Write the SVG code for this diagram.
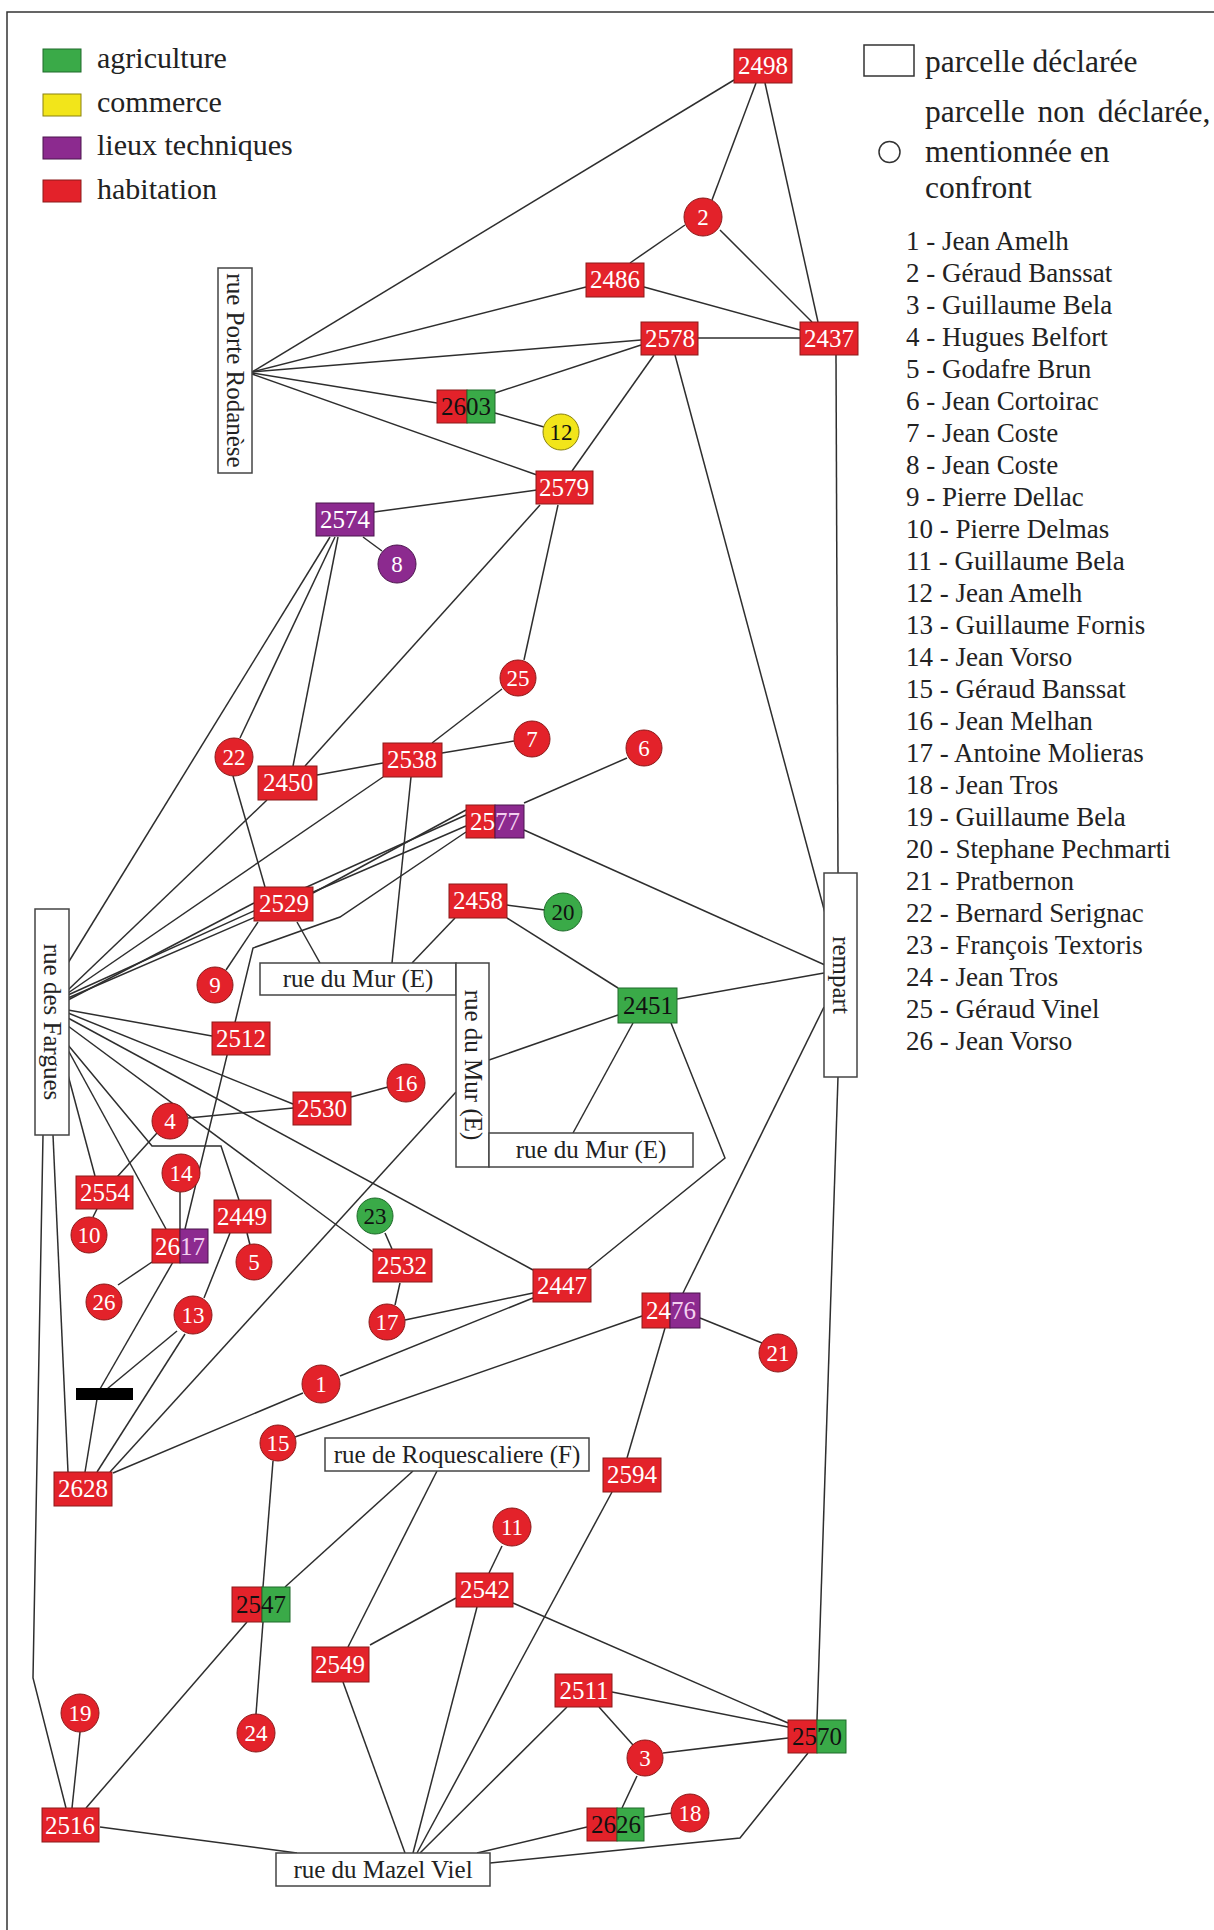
<svg xmlns="http://www.w3.org/2000/svg" width="1214" height="1930" viewBox="0 0 1214 1930">
<defs>
<style>
.ln{stroke:#2e2e2e;stroke-width:1.5;fill:none}
.r{fill:#e3222a;stroke:#8b1a1a;stroke-width:1}
.g{fill:#3aaa48;stroke:#1e6b2a;stroke-width:1}
.p{fill:#8c2a8f;stroke:#4b154d;stroke-width:1}
.y{fill:#f2e51a;stroke:#8a8210;stroke-width:1}
.st{fill:#fff;stroke:#444;stroke-width:1.5}
.t{font-family:"Liberation Serif",serif;font-size:25px;text-anchor:middle;fill:#fff}
.c{font-family:"Liberation Serif",serif;font-size:23px;text-anchor:middle;fill:#fff}
.k{fill:#111}
.s{font-family:"Liberation Serif",serif;font-size:25px;fill:#222;text-anchor:middle}
.lg{font-family:"Liberation Serif",serif;font-size:30px;fill:#222}
.lr{font-family:"Liberation Serif",serif;font-size:31.5px;fill:#222}
.li{font-family:"Liberation Serif",serif;font-size:27px;fill:#222}
</style>
</defs>
<rect width="1214" height="1930" fill="#fff"/>
<path d="M7,1930 V12 H1214" fill="none" stroke="#333" stroke-width="1.5"/>

<g id="legend">
<rect x="43" y="49" width="38" height="23" class="g"/>
<rect x="43" y="94" width="38" height="22" class="y"/>
<rect x="43" y="137" width="38" height="22" class="p"/>
<rect x="43" y="180" width="38" height="22" class="r"/>
<text class="lg" x="97" y="68">agriculture</text>
<text class="lg" x="97" y="112">commerce</text>
<text class="lg" x="97" y="155">lieux techniques</text>
<text class="lg" x="97" y="199">habitation</text>
<rect x="864" y="45" width="50" height="31" fill="#fff" stroke="#333" stroke-width="1.5"/>
<text class="lr" x="925" y="72">parcelle déclarée</text>
<circle cx="889.5" cy="152" r="10.5" fill="#fff" stroke="#333" stroke-width="1.5"/>
<text class="lr" x="925" y="122" word-spacing="5">parcelle non déclarée,</text>
<text class="lr" x="925" y="162">mentionnée en</text>
<text class="lr" x="925" y="198">confront</text>
<text class="li" x="906" y="250">1 - Jean Amelh</text>
<text class="li" x="906" y="282">2 - Géraud Banssat</text>
<text class="li" x="906" y="314">3 - Guillaume Bela</text>
<text class="li" x="906" y="346">4 - Hugues Belfort</text>
<text class="li" x="906" y="378">5 - Godafre Brun</text>
<text class="li" x="906" y="410">6 - Jean Cortoirac</text>
<text class="li" x="906" y="442">7 - Jean Coste</text>
<text class="li" x="906" y="474">8 - Jean Coste</text>
<text class="li" x="906" y="506">9 - Pierre Dellac</text>
<text class="li" x="906" y="538">10 - Pierre Delmas</text>
<text class="li" x="906" y="570">11 - Guillaume Bela</text>
<text class="li" x="906" y="602">12 - Jean Amelh</text>
<text class="li" x="906" y="634">13 - Guillaume Fornis</text>
<text class="li" x="906" y="666">14 - Jean Vorso</text>
<text class="li" x="906" y="698">15 - Géraud Banssat</text>
<text class="li" x="906" y="730">16 - Jean Melhan</text>
<text class="li" x="906" y="762">17 - Antoine Molieras</text>
<text class="li" x="906" y="794">18 - Jean Tros</text>
<text class="li" x="906" y="826">19 - Guillaume Bela</text>
<text class="li" x="906" y="858">20 - Stephane Pechmarti</text>
<text class="li" x="906" y="890">21 - Pratbernon</text>
<text class="li" x="906" y="922">22 - Bernard Serignac</text>
<text class="li" x="906" y="954">23 - François Textoris</text>
<text class="li" x="906" y="986">24 - Jean Tros</text>
<text class="li" x="906" y="1018">25 - Géraud Vinel</text>
<text class="li" x="906" y="1050">26 - Jean Vorso</text>
</g>

<g id="connectors">
<line class="ln" x1="734" y1="80" x2="252" y2="372"/>
<line class="ln" x1="756" y1="83" x2="712" y2="200"/>
<line class="ln" x1="765" y1="83" x2="818" y2="322"/>
<line class="ln" x1="685" y1="225" x2="630" y2="263"/>
<line class="ln" x1="720" y1="230" x2="812" y2="322"/>
<line class="ln" x1="644" y1="287" x2="800" y2="330"/>
<line class="ln" x1="586" y1="287" x2="252" y2="372"/>
<line class="ln" x1="698" y1="338" x2="800" y2="338"/>
<line class="ln" x1="641" y1="340" x2="252" y2="372"/>
<line class="ln" x1="641" y1="345" x2="495" y2="393"/>
<line class="ln" x1="654" y1="355" x2="572" y2="471"/>
<line class="ln" x1="675" y1="355" x2="825" y2="913"/>
<line class="ln" x1="437" y1="403" x2="252" y2="373"/>
<line class="ln" x1="495" y1="413" x2="544" y2="427"/>
<line class="ln" x1="537" y1="475" x2="252" y2="374"/>
<line class="ln" x1="537" y1="490" x2="374" y2="512"/>
<line class="ln" x1="558" y1="505" x2="524" y2="660"/>
<line class="ln" x1="540" y1="505" x2="305" y2="766"/>
<line class="ln" x1="363" y1="537" x2="382" y2="551"/>
<line class="ln" x1="330" y1="537" x2="68" y2="963"/>
<line class="ln" x1="335" y1="537" x2="240" y2="738"/>
<line class="ln" x1="338" y1="537" x2="293" y2="766"/>
<line class="ln" x1="233" y1="776" x2="265" y2="887"/>
<line class="ln" x1="317" y1="775" x2="383" y2="763"/>
<line class="ln" x1="267" y1="800" x2="68" y2="990"/>
<line class="ln" x1="383" y1="777" x2="68" y2="993"/>
<line class="ln" x1="502" y1="689" x2="432" y2="743"/>
<line class="ln" x1="442" y1="753" x2="514" y2="741"/>
<line class="ln" x1="411" y1="777" x2="392" y2="963"/>
<line class="ln" x1="524" y1="803" x2="627" y2="758"/>
<line class="ln" x1="524" y1="830" x2="825" y2="965"/>
<line class="ln" x1="466" y1="815" x2="68" y2="995"/>
<line class="ln" x1="466" y1="826" x2="68" y2="998"/>
<line class="ln" x1="313" y1="893" x2="466" y2="810"/>
<polyline class="ln" points="466,832 340,917 253,948 185,1229"/>
<line class="ln" x1="254" y1="903" x2="68" y2="1000"/>
<line class="ln" x1="297" y1="922" x2="320" y2="963"/>
<line class="ln" x1="258" y1="922" x2="226" y2="970"/>
<line class="ln" x1="507" y1="905" x2="545" y2="910"/>
<line class="ln" x1="507" y1="918" x2="618" y2="988"/>
<line class="ln" x1="455" y1="918" x2="412" y2="963"/>
<line class="ln" x1="677" y1="999" x2="824" y2="973"/>
<line class="ln" x1="618" y1="1015" x2="489" y2="1060"/>
<line class="ln" x1="633" y1="1023" x2="573" y2="1133"/>
<polyline class="ln" points="671,1023 725,1158 588,1269"/>
<line class="ln" x1="836" y1="355" x2="838" y2="873"/>
<line class="ln" x1="68" y1="1010" x2="212" y2="1036"/>
<line class="ln" x1="68" y1="1013" x2="293" y2="1104"/>
<line class="ln" x1="68" y1="1018" x2="533" y2="1270"/>
<line class="ln" x1="68" y1="1026" x2="373" y2="1252"/>
<polyline class="ln" points="68,1045 152,1146 221,1146 239,1200"/>
<line class="ln" x1="68" y1="1050" x2="166" y2="1229"/>
<line class="ln" x1="68" y1="1075" x2="95" y2="1176"/>
<line class="ln" x1="351" y1="1097" x2="388" y2="1087"/>
<line class="ln" x1="188" y1="1118" x2="293" y2="1108"/>
<line class="ln" x1="157" y1="1133" x2="117" y2="1177"/>
<line class="ln" x1="97" y1="1209" x2="93" y2="1217"/>
<line class="ln" x1="180" y1="1192" x2="180" y2="1229"/>
<line class="ln" x1="247" y1="1233" x2="250" y2="1245"/>
<line class="ln" x1="230" y1="1233" x2="204" y2="1298"/>
<line class="ln" x1="152" y1="1262" x2="118" y2="1285"/>
<line class="ln" x1="385" y1="1233" x2="392" y2="1249"/>
<line class="ln" x1="400" y1="1283" x2="395" y2="1305"/>
<line class="ln" x1="405" y1="1320" x2="533" y2="1293"/>
<line class="ln" x1="340" y1="1376" x2="533" y2="1298"/>
<line class="ln" x1="113" y1="1473" x2="303" y2="1393"/>
<line class="ln" x1="295" y1="1437" x2="642" y2="1316"/>
<line class="ln" x1="700" y1="1318" x2="762" y2="1343"/>
<line class="ln" x1="683" y1="1293" x2="824" y2="1007"/>
<line class="ln" x1="665" y1="1328" x2="627" y2="1458"/>
<line class="ln" x1="456" y1="1092" x2="110" y2="1472"/>
<line class="ln" x1="173" y1="1262" x2="100" y2="1389"/>
<line class="ln" x1="177" y1="1331" x2="107" y2="1389"/>
<line class="ln" x1="97" y1="1399" x2="85" y2="1472"/>
<line class="ln" x1="185" y1="1334" x2="97" y2="1472"/>
<line class="ln" x1="53" y1="1135" x2="68" y2="1472"/>
<polyline class="ln" points="43,1135 33,1678 66,1808"/>
<line class="ln" x1="80" y1="1732" x2="72" y2="1808"/>
<line class="ln" x1="247" y1="1622" x2="86" y2="1808"/>
<line class="ln" x1="100" y1="1827" x2="297" y2="1853"/>
<line class="ln" x1="273" y1="1461" x2="263" y2="1587"/>
<line class="ln" x1="263" y1="1622" x2="256" y2="1714"/>
<line class="ln" x1="413" y1="1471" x2="285" y2="1587"/>
<line class="ln" x1="437" y1="1471" x2="348" y2="1647"/>
<line class="ln" x1="370" y1="1645" x2="456" y2="1598"/>
<line class="ln" x1="343" y1="1682" x2="405" y2="1853"/>
<line class="ln" x1="502" y1="1546" x2="489" y2="1573"/>
<line class="ln" x1="477" y1="1607" x2="413" y2="1853"/>
<line class="ln" x1="513" y1="1603" x2="788" y2="1723"/>
<line class="ln" x1="612" y1="1492" x2="417" y2="1853"/>
<line class="ln" x1="612" y1="1692" x2="788" y2="1727"/>
<line class="ln" x1="599" y1="1707" x2="633" y2="1745"/>
<line class="ln" x1="567" y1="1707" x2="420" y2="1853"/>
<line class="ln" x1="663" y1="1753" x2="788" y2="1738"/>
<line class="ln" x1="637" y1="1776" x2="622" y2="1808"/>
<line class="ln" x1="644" y1="1817" x2="672" y2="1813"/>
<line class="ln" x1="587" y1="1827" x2="477" y2="1853"/>
<polyline class="ln" points="808,1753 740,1838 490,1863"/>
<line class="ln" x1="838" y1="1077" x2="817" y2="1720"/>
</g>

<g id="streets">
<g id="rue-porte-rodanese"><rect class="st" x="218" y="268" width="34" height="205"/><text class="s" transform="translate(235,370.5) rotate(90)" dy="8">rue Porte Rodanèse</text></g>
<g id="rue-des-fargues"><rect class="st" x="35" y="909" width="34" height="226"/><text class="s" transform="translate(52,1022) rotate(90)" dy="8">rue des Fargues</text></g>
<g id="rue-du-mur-1"><rect class="st" x="260" y="963" width="196" height="32"/><text class="s" x="358" y="987">rue du Mur (E)</text></g>
<g id="rue-du-mur-2"><rect class="st" x="456" y="963" width="33" height="204"/><text class="s" transform="translate(472.5,1065) rotate(90)" dy="8">rue du Mur (E)</text></g>
<g id="rue-du-mur-3"><rect class="st" x="489" y="1133" width="204" height="34"/><text class="s" x="591" y="1158">rue du Mur (E)</text></g>
<g id="rempart"><rect class="st" x="824" y="873" width="33" height="204"/><text class="s" transform="translate(840.5,975) rotate(90)" dy="8">rempart</text></g>
<g id="rue-de-roquescaliere"><rect class="st" x="325" y="1438" width="264" height="33"/><text class="s" x="457" y="1463">rue de Roquescaliere (F)</text></g>
<g id="rue-du-mazel-viel"><rect class="st" x="276" y="1853" width="214" height="33"/><text class="s" x="383" y="1878">rue du Mazel Viel</text></g>
</g>

<g id="n2498"><rect class="r" x="734" y="49" width="58" height="34"/><text class="t" x="763" y="74">2498</text></g>
<g id="n2486"><rect class="r" x="586" y="263" width="58" height="34"/><text class="t" x="615" y="288">2486</text></g>
<g id="n2578"><rect class="r" x="641" y="322" width="57" height="33"/><text class="t" x="670" y="347">2578</text></g>
<g id="n2437"><rect class="r" x="800" y="322" width="58" height="33"/><text class="t" x="829" y="347">2437</text></g>
<g id="n2603"><rect class="r" x="437" y="390" width="30" height="33"/><rect class="g" x="467" y="390" width="28" height="33"/><text class="t k" x="466" y="415">2603</text></g>
<g id="n2579"><rect class="r" x="536" y="471" width="57" height="33"/><text class="t" x="564" y="496">2579</text></g>
<g id="n2574"><rect class="p" x="316" y="503" width="58" height="33"/><text class="t" x="345" y="528">2574</text></g>
<g id="n2450"><rect class="r" x="258" y="766" width="59" height="34"/><text class="t" x="288" y="791">2450</text></g>
<g id="n2538"><rect class="r" x="383" y="743" width="59" height="34"/><text class="t" x="412" y="768">2538</text></g>
<g id="n2577"><rect class="r" x="466" y="805" width="29" height="33"/><rect class="p" x="495" y="805" width="29" height="33"/><text class="t" x="495" y="830">25<tspan fill="#f3d0f0">77</tspan></text></g>
<g id="n2529"><rect class="r" x="254" y="887" width="59" height="34"/><text class="t" x="284" y="912">2529</text></g>
<g id="n2458"><rect class="r" x="449" y="884" width="58" height="34"/><text class="t" x="478" y="909">2458</text></g>
<g id="n2451"><rect class="g" x="618" y="988" width="59" height="35"/><text class="t k" x="648" y="1014">2451</text></g>
<g id="n2512"><rect class="r" x="212" y="1022" width="58" height="33"/><text class="t" x="241" y="1047">2512</text></g>
<g id="n2530"><rect class="r" x="293" y="1092" width="58" height="33"/><text class="t" x="322" y="1117">2530</text></g>
<g id="n2554"><rect class="r" x="76" y="1176" width="57" height="33"/><text class="t" x="105" y="1201">2554</text></g>
<g id="n2449"><rect class="r" x="214" y="1200" width="57" height="33"/><text class="t" x="242" y="1225">2449</text></g>
<g id="n2617"><rect class="r" x="152" y="1229" width="28" height="34"/><rect class="p" x="180" y="1229" width="28" height="34"/><text class="t" x="180" y="1255">26<tspan fill="#f3d0f0">17</tspan></text></g>
<g id="n2532"><rect class="r" x="373" y="1249" width="59" height="33"/><text class="t" x="402" y="1274">2532</text></g>
<g id="n2447"><rect class="r" x="533" y="1269" width="58" height="33"/><text class="t" x="562" y="1294">2447</text></g>
<g id="n2476"><rect class="r" x="642" y="1293" width="28" height="35"/><rect class="p" x="670" y="1293" width="30" height="35"/><text class="t" x="671" y="1319">24<tspan fill="#f3d0f0">76</tspan></text></g>
<g id="bar"><rect x="76" y="1388" width="57" height="12" fill="#000"/></g>
<g id="n2628"><rect class="r" x="54" y="1472" width="58" height="34"/><text class="t" x="83" y="1497">2628</text></g>
<g id="n2594"><rect class="r" x="603" y="1458" width="58" height="34"/><text class="t" x="632" y="1483">2594</text></g>
<g id="n2547"><rect class="r" x="232" y="1587" width="30" height="35"/><rect class="g" x="262" y="1587" width="28" height="35"/><text class="t k" x="261" y="1613">2547</text></g>
<g id="n2542"><rect class="r" x="456" y="1573" width="57" height="34"/><text class="t" x="485" y="1598">2542</text></g>
<g id="n2549"><rect class="r" x="312" y="1647" width="57" height="35"/><text class="t" x="340" y="1673">2549</text></g>
<g id="n2511"><rect class="r" x="555" y="1674" width="57" height="33"/><text class="t" x="584" y="1699">2511</text></g>
<g id="n2570"><rect class="r" x="788" y="1720" width="29" height="33"/><rect class="g" x="817" y="1720" width="29" height="33"/><text class="t k" x="817" y="1745">2570</text></g>
<g id="n2626"><rect class="r" x="587" y="1808" width="30" height="33"/><rect class="g" x="617" y="1808" width="27" height="33"/><text class="t k" x="616" y="1833">2626</text></g>
<g id="n2516"><rect class="r" x="42" y="1808" width="57" height="34"/><text class="t" x="70" y="1834">2516</text></g>

<g id="c1"><circle class="r" cx="321" cy="1384" r="19"/><text class="c" x="321" y="1392">1</text></g>
<g id="c2"><circle class="r" cx="703" cy="217" r="19"/><text class="c" x="703" y="225">2</text></g>
<g id="c3"><circle class="r" cx="645" cy="1758" r="18"/><text class="c" x="645" y="1766">3</text></g>
<g id="c4"><circle class="r" cx="170" cy="1121" r="18"/><text class="c" x="170" y="1129">4</text></g>
<g id="c5"><circle class="r" cx="254" cy="1262" r="18"/><text class="c" x="254" y="1270">5</text></g>
<g id="c6"><circle class="r" cx="644" cy="748" r="18"/><text class="c" x="644" y="756">6</text></g>
<g id="c7"><circle class="r" cx="532" cy="739" r="18"/><text class="c" x="532" y="747">7</text></g>
<g id="c8"><circle class="p" cx="397" cy="564" r="19"/><text class="c" x="397" y="572">8</text></g>
<g id="c9"><circle class="r" cx="215" cy="985" r="18"/><text class="c" x="215" y="993">9</text></g>
<g id="c10"><circle class="r" cx="89" cy="1235" r="18"/><text class="c" x="89" y="1243">10</text></g>
<g id="c11"><circle class="r" cx="512" cy="1527" r="19"/><text class="c" x="512" y="1535">11</text></g>
<g id="c12"><circle class="y" cx="561" cy="432" r="18"/><text class="c k" x="561" y="440">12</text></g>
<g id="c13"><circle class="r" cx="193" cy="1315" r="19"/><text class="c" x="193" y="1323">13</text></g>
<g id="c14"><circle class="r" cx="181" cy="1173" r="19"/><text class="c" x="181" y="1181">14</text></g>
<g id="c15"><circle class="r" cx="278" cy="1443" r="18"/><text class="c" x="278" y="1451">15</text></g>
<g id="c16"><circle class="r" cx="406" cy="1083" r="19"/><text class="c" x="406" y="1091">16</text></g>
<g id="c17"><circle class="r" cx="387" cy="1322" r="18"/><text class="c" x="387" y="1330">17</text></g>
<g id="c18"><circle class="r" cx="690" cy="1813" r="19"/><text class="c" x="690" y="1821">18</text></g>
<g id="c19"><circle class="r" cx="80" cy="1713" r="19"/><text class="c" x="80" y="1721">19</text></g>
<g id="c20"><circle class="g" cx="563" cy="912" r="19"/><text class="c k" x="563" y="920">20</text></g>
<g id="c21"><circle class="r" cx="778" cy="1353" r="19"/><text class="c" x="778" y="1361">21</text></g>
<g id="c22"><circle class="r" cx="234" cy="757" r="19"/><text class="c" x="234" y="765">22</text></g>
<g id="c23"><circle class="g" cx="375" cy="1216" r="18"/><text class="c k" x="375" y="1224">23</text></g>
<g id="c24"><circle class="r" cx="256" cy="1733" r="19"/><text class="c" x="256" y="1741">24</text></g>
<g id="c25"><circle class="r" cx="518" cy="678" r="18"/><text class="c" x="518" y="686">25</text></g>
<g id="c26"><circle class="r" cx="104" cy="1302" r="18"/><text class="c" x="104" y="1310">26</text></g>
</svg>
